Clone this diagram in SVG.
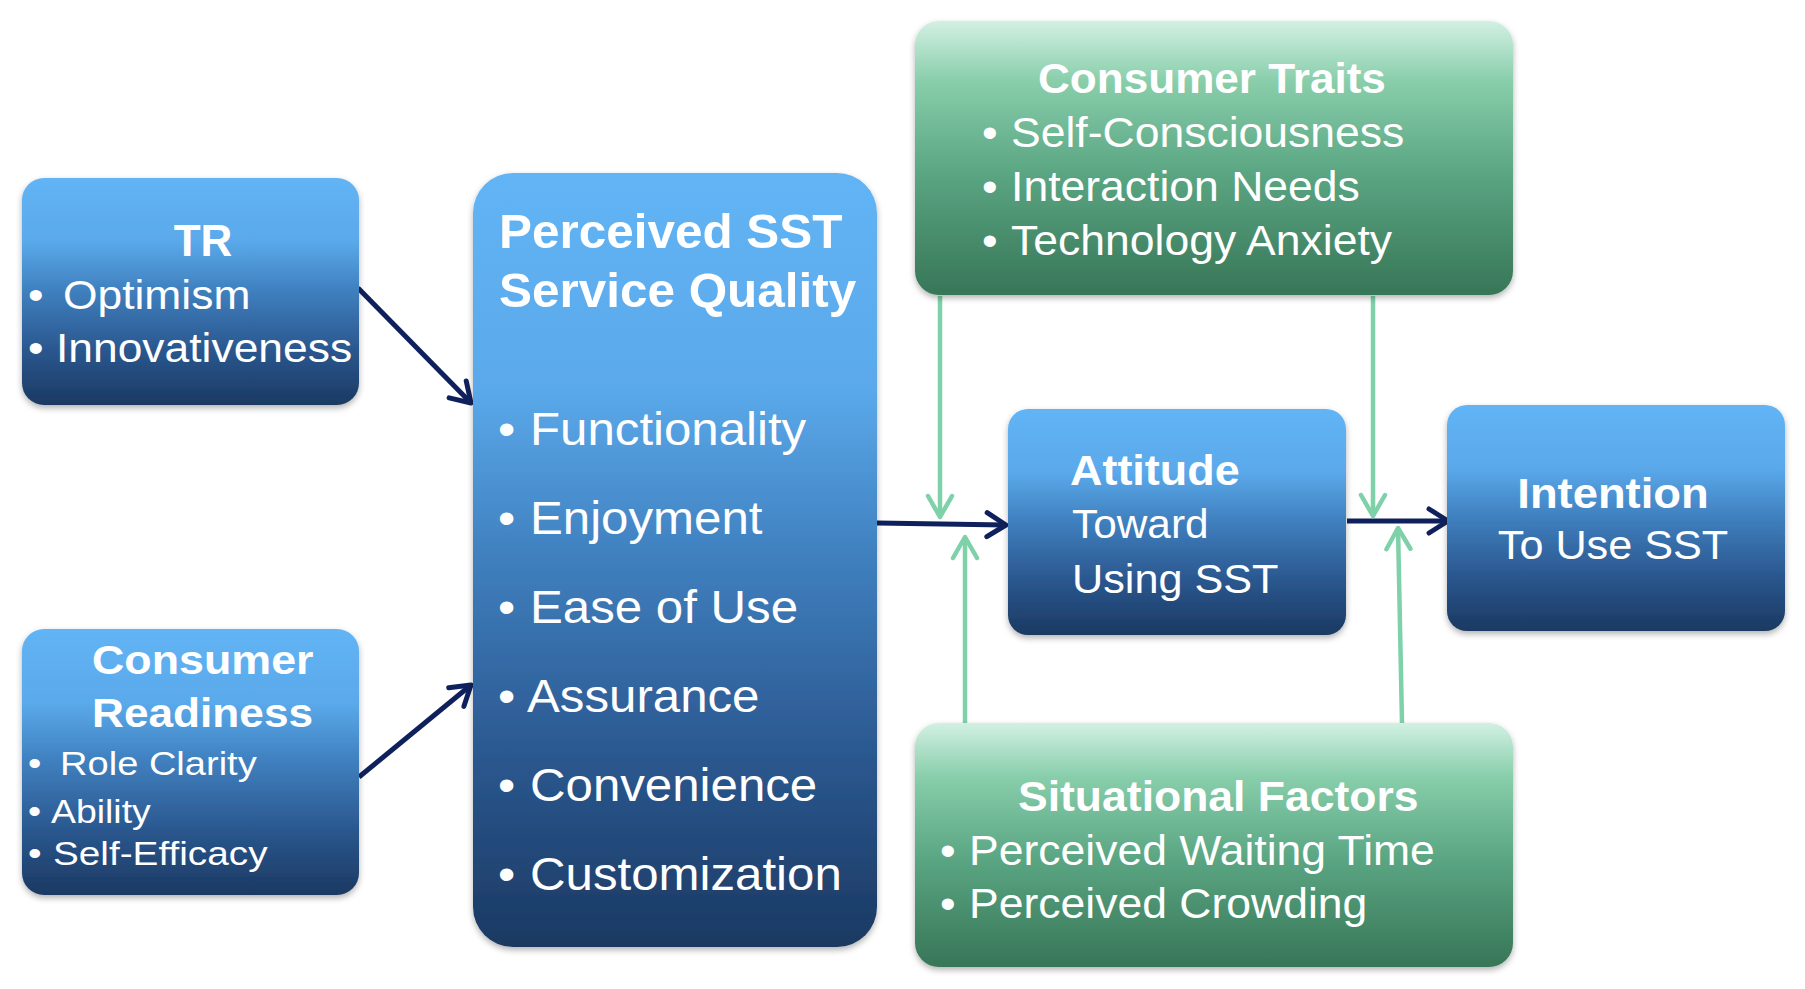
<svg xmlns="http://www.w3.org/2000/svg" width="1805" height="989" viewBox="0 0 1805 989">
<defs>
<linearGradient id="gBlue" x1="0" y1="0" x2="0" y2="1">
<stop offset="0" stop-color="#62b4f5"/>
<stop offset="0.28" stop-color="#5aa9ea"/>
<stop offset="0.5" stop-color="#3f7fbe"/>
<stop offset="0.75" stop-color="#2b5890"/>
<stop offset="1" stop-color="#1b3962"/>
</linearGradient>
<linearGradient id="gGreen" x1="0" y1="0" x2="0" y2="1">
<stop offset="0" stop-color="#d2f0e3"/>
<stop offset="0.22" stop-color="#88ceab"/>
<stop offset="0.55" stop-color="#5ba683"/>
<stop offset="1" stop-color="#377657"/>
</linearGradient>
<filter id="sh" x="-10%" y="-10%" width="120%" height="125%">
<feDropShadow dx="0" dy="3" stdDeviation="3" flood-color="#000" flood-opacity="0.3"/>
</filter>
<marker id="aNavy" viewBox="0 0 30 30" markerWidth="30" markerHeight="30" refX="27" refY="15" orient="auto" markerUnits="userSpaceOnUse">
<path d="M8,3 L27,15 L8,27" fill="none" stroke="#0f215c" stroke-width="5" stroke-linecap="round" stroke-linejoin="round"/>
</marker>
<marker id="aGreen" viewBox="0 0 30 30" markerWidth="30" markerHeight="30" refX="27" refY="15" orient="auto" markerUnits="userSpaceOnUse">
<path d="M6,3 L27,15 L6,27" fill="none" stroke="#7ed1a9" stroke-width="4.5" stroke-linecap="round" stroke-linejoin="round"/>
</marker>
</defs>
<style>
.blue{fill:url(#gBlue);filter:url(#sh)}
.green{fill:url(#gGreen);filter:url(#sh)}
text{fill:#ffffff;font-family:"Liberation Sans",Arial,sans-serif}
.b{font-weight:bold}
.navy{stroke:#0f215c;stroke-width:5;fill:none;marker-end:url(#aNavy)}
.grn{stroke:#7ed1a9;stroke-width:4.5;fill:none;marker-end:url(#aGreen)}
</style>
<rect width="1805" height="989" fill="#ffffff"/>

<g id="connectors">
<path class="navy" d="M358,288 L471,403"/>
<path class="navy" d="M359,777 L471,685"/>
<path class="navy" d="M877,523 L1006,525"/>
<path class="navy" d="M1347,521 L1448,521"/>
<path class="grn" d="M940,296 L940,517"/>
<path class="grn" d="M1373,296 L1373,516"/>
<path class="grn" d="M965,723 L965,537"/>
<path class="grn" d="M1402,723 L1398,528"/>
</g>

<g id="tr">
<rect class="blue" x="22" y="178" width="337" height="227" rx="22"/>
<text class="b" font-size="44" text-anchor="middle" x="203" y="256">TR</text>
<text font-size="40" transform="translate(28,309) scale(1.11,1)"><tspan x="0">•</tspan><tspan x="31.5">Optimism</tspan></text>
<text font-size="40" transform="translate(28,362) scale(1.11,1)"><tspan x="0">•</tspan><tspan x="25.2">Innovativeness</tspan></text>
</g>

<g id="consumer-readiness">
<rect class="blue" x="22" y="629" width="337" height="266" rx="22"/>
<text class="b" font-size="40" transform="translate(92,674) scale(1.12,1)">Consumer</text>
<text class="b" font-size="40" transform="translate(92,727) scale(1.105,1)">Readiness</text>
<text font-size="34" transform="translate(28,775) scale(1.12,1)"><tspan x="0">•</tspan><tspan x="28.6">Role Clarity</tspan></text>
<text font-size="34" transform="translate(28,823) scale(1.1,1)"><tspan x="0">•</tspan><tspan x="20.9">Ability</tspan></text>
<text font-size="34" transform="translate(28,865) scale(1.14,1)"><tspan x="0">•</tspan><tspan x="21.9">Self-Efficacy</tspan></text>
</g>

<g id="perceived-sst">
<rect class="blue" x="473" y="173" width="404" height="774" rx="40"/>
<text class="b" font-size="48" transform="translate(499,248) scale(1.03,1)">Perceived SST</text>
<text class="b" font-size="48" transform="translate(499,307) scale(1.03,1)">Service Quality</text>
<text font-size="46" transform="translate(498,445) scale(1.07,1)"><tspan x="0">•</tspan><tspan x="29.9">Functionality</tspan></text>
<text font-size="46" transform="translate(498,534) scale(1.07,1)"><tspan x="0">•</tspan><tspan x="29.9">Enjoyment</tspan></text>
<text font-size="46" transform="translate(498,623) scale(1.07,1)"><tspan x="0">•</tspan><tspan x="29.9">Ease of Use</tspan></text>
<text font-size="46" transform="translate(498,712) scale(1.07,1)"><tspan x="0">•</tspan><tspan x="27.1">Assurance</tspan></text>
<text font-size="46" transform="translate(498,801) scale(1.07,1)"><tspan x="0">•</tspan><tspan x="29.9">Convenience</tspan></text>
<text font-size="46" transform="translate(498,890) scale(1.07,1)"><tspan x="0">•</tspan><tspan x="29.9">Customization</tspan></text>
</g>

<g id="consumer-traits">
<rect class="green" x="915" y="21" width="598" height="274" rx="24"/>
<text class="b" font-size="42" transform="translate(1038,93) scale(1.05,1)">Consumer Traits</text>
<text font-size="42" transform="translate(982,147) scale(1.06,1)"><tspan x="0">•</tspan><tspan x="27.4">Self-Consciousness</tspan></text>
<text font-size="42" transform="translate(982,201) scale(1.06,1)"><tspan x="0">•</tspan><tspan x="27.4">Interaction Needs</tspan></text>
<text font-size="42" transform="translate(982,255) scale(1.06,1)"><tspan x="0">•</tspan><tspan x="27.4">Technology Anxiety</tspan></text>
</g>

<g id="attitude">
<rect class="blue" x="1008" y="409" width="338" height="226" rx="20"/>
<text class="b" font-size="42" transform="translate(1070,485) scale(1.07,1)">Attitude</text>
<text font-size="40" transform="translate(1072,538) scale(1.06,1)">Toward</text>
<text font-size="40" transform="translate(1072,593) scale(1.08,1)">Using SST</text>
</g>

<g id="intention">
<rect class="blue" x="1447" y="405" width="338" height="226" rx="20"/>
<text class="b" font-size="42" text-anchor="middle" transform="translate(1613,508) scale(1.08,1)">Intention</text>
<text font-size="40" text-anchor="middle" transform="translate(1613,559) scale(1.08,1)">To Use SST</text>
</g>

<g id="situational-factors">
<rect class="green" x="915" y="723" width="598" height="244" rx="24"/>
<text class="b" font-size="42" transform="translate(1018,811) scale(1.06,1)">Situational Factors</text>
<text font-size="42" transform="translate(940,865) scale(1.06,1)"><tspan x="0">•</tspan><tspan x="27.4">Perceived Waiting Time</tspan></text>
<text font-size="42" transform="translate(940,918) scale(1.06,1)"><tspan x="0">•</tspan><tspan x="27.4">Perceived Crowding</tspan></text>
</g>
</svg>
